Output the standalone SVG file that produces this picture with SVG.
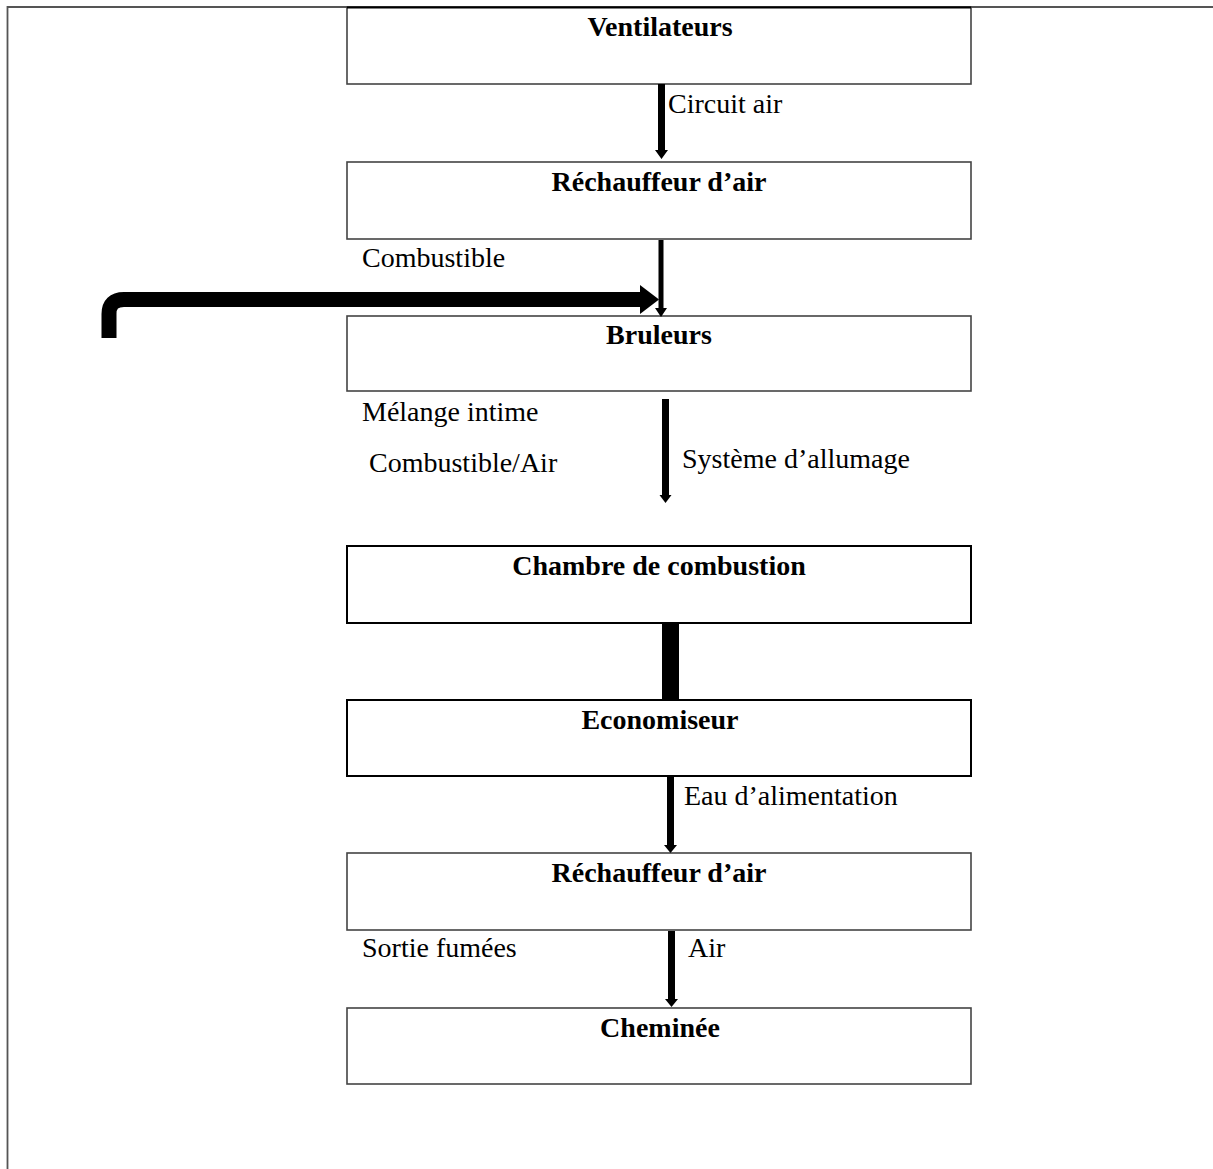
<svg xmlns="http://www.w3.org/2000/svg" width="1213" height="1169" viewBox="0 0 1213 1169">
<style>
.box{fill:#fff;stroke:#444;stroke-width:1.6}
.boxk{fill:#fff;stroke:#000;stroke-width:2}
.t{font-family:"Liberation Serif","Times New Roman",serif;font-size:28px;fill:#000}
.b{font-weight:bold;text-anchor:middle}
.ar{fill:#000}
</style>
<rect width="1213" height="1169" fill="#fff"/>
<g id="frame">
<path d="M7.5 1169 V7 H1213" fill="none" stroke="#555" stroke-width="1.8"/>
</g>
<g id="n1"><rect class="box" x="347" y="7" width="624" height="77"/><path d="M347 7.5 H971" stroke="#000" stroke-width="2"/><text class="t b" x="660" y="36">Ventilateurs</text></g>
<g id="n2"><rect class="box" x="347" y="162" width="624" height="77"/><text class="t b" x="659" y="191">Réchauffeur d’air</text></g>
<g id="n3"><rect class="box" x="347" y="316" width="624" height="75"/><text class="t b" x="659" y="344">Bruleurs</text></g>
<g id="n4"><rect class="boxk" x="347" y="546" width="624" height="77"/><text class="t b" x="659" y="575">Chambre de combustion</text></g>
<g id="n5"><rect class="boxk" x="347" y="700" width="624" height="76"/><text class="t b" x="660" y="729">Economiseur</text></g>
<g id="n6"><rect class="box" x="347" y="853" width="624" height="77"/><text class="t b" x="659" y="882">Réchauffeur d’air</text></g>
<g id="n7"><rect class="box" x="347" y="1008" width="624" height="76"/><text class="t b" x="660" y="1037">Cheminée</text></g>
<g id="connectors">
<polygon class="ar" points="658,84 665,84 665,150 668,150 661.5,159 655,150 658,150"/>
<polygon class="ar" points="658.5,240 663.5,240 663.5,308 667,308 661,317 655,308 658.5,308"/>
<path d="M109 338 V314 Q109 299.5 124 299.5 H643" fill="none" stroke="#000" stroke-width="15"/>
<polygon class="ar" points="640,285 659,299.5 640,314"/>
<polygon class="ar" points="662,399 669,399 669,495 671.5,495 665.5,503 659.5,495 662,495"/>
<rect class="ar" x="662" y="623" width="17" height="77"/>
<polygon class="ar" points="667,777 674,777 674,845 677,845 670.5,853 664,845 667,845"/>
<polygon class="ar" points="668,931 675,931 675,999 678,999 671.5,1007 665,999 668,999"/>
</g>
<g id="labels">
<text class="t" x="668" y="113">Circuit air</text>
<text class="t" x="362" y="267">Combustible</text>
<text class="t" x="362" y="421">Mélange intime</text>
<text class="t" x="369" y="472">Combustible/Air</text>
<text class="t" x="682" y="468">Système d’allumage</text>
<text class="t" x="684" y="805">Eau d’alimentation</text>
<text class="t" x="362" y="957">Sortie fumées</text>
<text class="t" x="688" y="957">Air</text>
</g>
</svg>
